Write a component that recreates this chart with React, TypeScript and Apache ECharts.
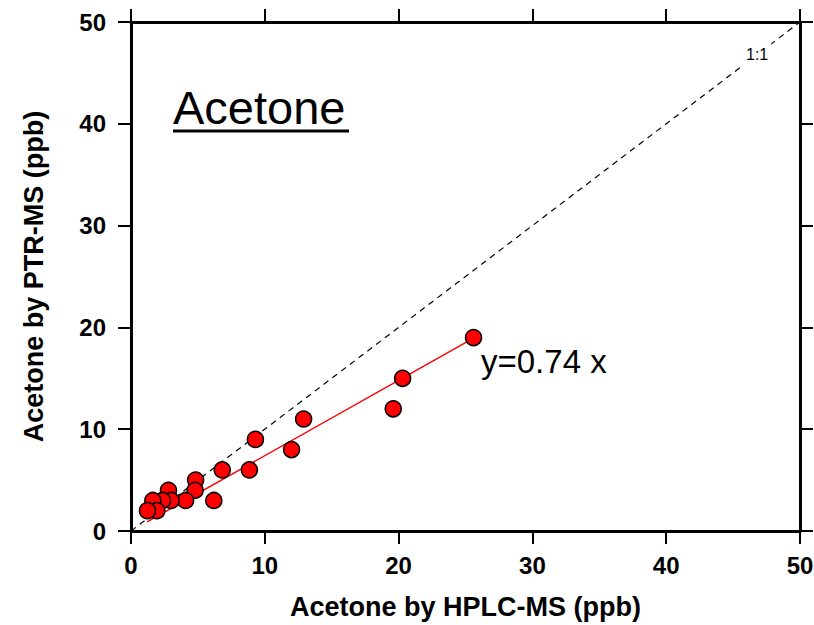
import React, { useEffect, useRef } from "react";
import * as echarts from "echarts";

const hplc = [25.6, 20.3, 19.6, 12.9, 12.0, 9.3, 8.85, 6.82, 6.19, 4.83, 4.79, 4.08, 2.8, 3.0, 2.35, 1.63, 1.93, 1.23];
const ptr = [19, 15, 12, 11, 8, 9, 6, 6, 3, 5, 4, 3, 4, 3, 3, 3, 2, 2];
const slope = 0.74;
const fitRange = [1.2, 25.6];
const ticks = [0, 10, 20, 30, 40, 50];

const FONT = "Liberation Sans, Arial, sans-serif";

export default function App() {
  const ref = useRef<HTMLDivElement>(null);
  useEffect(() => {
    const chart = echarts.init(ref.current!, null, { renderer: "svg" });
    const pts = hplc.map((x, i) => [x, ptr[i]]);
    const fit = fitRange.map((x) => [x, slope * x]);
    const axisCommon = {
      min: ticks[0],
      max: ticks[ticks.length - 1],
      interval: 10,
      splitLine: { show: false },
      axisLine: { show: true, onZero: false, lineStyle: { color: "#000", width: 3 } },
      axisTick: { show: true, inside: false, length: 13, lineStyle: { color: "#000", width: 2 } },
    };
    const nameStyle = { fontFamily: FONT, fontWeight: "bold", fontSize: 27, color: "#000" };
    const labelStyle = { fontFamily: FONT, fontWeight: "bold", fontSize: 24, color: "#000" };
    chart.setOption({
      animation: false,
      backgroundColor: "#fff",
      grid: { left: 131, right: 14, top: 22, bottom: 94, outerBoundsMode: "none", containLabel: false },
      xAxis: [
        {
          ...axisCommon,
          type: "value",
          position: "bottom",
          name: "Acetone by HPLC-MS (ppb)",
          nameLocation: "middle",
          nameGap: 62,
          nameTextStyle: nameStyle,
          axisLabel: { margin: 22, ...labelStyle },
        },
        {
          ...axisCommon,
          type: "value",
          position: "top",
          axisLabel: { show: false },
        },
      ],
      yAxis: [
        {
          ...axisCommon,
          type: "value",
          position: "left",
          name: "Acetone by PTR-MS (ppb)",
          nameLocation: "middle",
          nameGap: 84,
          nameTextStyle: nameStyle,
          axisLabel: { margin: 25, ...labelStyle },
        },
        {
          ...axisCommon,
          type: "value",
          position: "right",
          axisLabel: { show: false },
        },
      ],
      series: [
        {
          type: "line",
          data: [[0, 0], [50, 50]],
          symbol: "none",
          lineStyle: { color: "#000", width: 1.2, type: [6, 5] },
          z: 1,
        },
        {
          type: "line",
          data: fit,
          symbol: "none",
          lineStyle: { color: "#ff0000", width: 1.5 },
          z: 2,
        },
        {
          type: "scatter",
          data: pts,
          symbol: "circle",
          symbolSize: 16,
          itemStyle: { color: "#ff0000", borderColor: "#000", borderWidth: 1.5, opacity: 1 },
          z: 3,
        },
      ],
      graphic: [
        {
          type: "text",
          left: 173,
          top: 84,
          style: { text: "Acetone", fontFamily: FONT, fontSize: 47, fill: "#000" },
        },
        {
          type: "line",
          shape: { x1: 173, y1: 131, x2: 349, y2: 131 },
          style: { stroke: "#000", lineWidth: 3 },
        },
        {
          type: "text",
          left: 481,
          top: 345,
          style: { text: "y=0.74 x", fontFamily: FONT, fontSize: 33, fill: "#000" },
        },
        {
          type: "text",
          left: 743,
          top: 41,
          z: 10,
          style: {
            text: "1:1",
            fontFamily: FONT,
            fontSize: 16,
            fill: "#000",
            backgroundColor: "#fff",
            padding: [5, 3, 5, 3],
          },
        },
      ],
    });
    return () => chart.dispose();
  }, []);
  return <div ref={ref} style={{ position: "fixed", left: 0, top: 0, width: 814, height: 625 }} />;
}
